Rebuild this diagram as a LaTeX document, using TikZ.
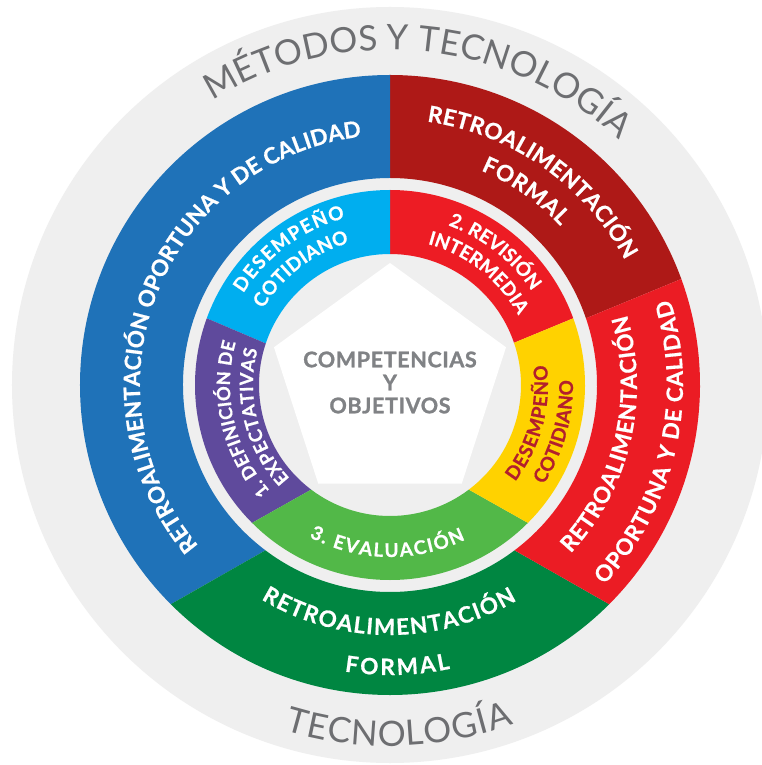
\documentclass[tikz,border=0pt]{standalone}
\usepackage{fontspec}
\setmainfont{Lato}
\usetikzlibrary{decorations.text}
\definecolor{bgray}{HTML}{EFEFEF}
\definecolor{tgray}{HTML}{6D6E71}
\definecolor{cgray}{HTML}{808285}
\definecolor{oblue}{HTML}{1F72B8}
\definecolor{odred}{HTML}{AE1917}
\definecolor{ored}{HTML}{EB1C24}
\definecolor{ogreen}{HTML}{008641}
\definecolor{icyan}{HTML}{00AEEF}
\definecolor{ired}{HTML}{ED1C24}
\definecolor{iyellow}{HTML}{FFD200}
\definecolor{igreen}{HTML}{52B848}
\definecolor{ipurple}{HTML}{5F4A9C}
\definecolor{ytext}{HTML}{B21F2D}
% ring segment: colour, r in, r out, A(in), A(out), B(in), B(out)
\newcommand{\ringseg}[7]{\fill[#1] (#4:#2pt) -- (#5:#3pt) arc[start angle=#5, end angle=#7, radius=#3pt] -- (#6:#2pt) arc[start angle=#6, end angle=#4, radius=#2pt] -- cycle;}
% text on an arc: radius, start angle, end angle, format, text
\newcommand{\arctext}[5]{\path[decorate, decoration={text along path, text align={fit to path}, text={|#4|#5}}] (#2:#1pt) arc[start angle=#2, end angle=#3, radius=#1pt];}
\newcommand{\fmtgray}{\color{tgray}\fontsize{35}{35}\selectfont}
\newcommand{\fmtouter}{\color{white}\bfseries\fontsize{22.5}{22.5}\selectfont\addfontfeatures{FakeBold=0.7}}
\newcommand{\fmtinner}{\color{white}\bfseries\fontsize{19}{19}\selectfont\addfontfeatures{FakeBold=0.7}}
\newcommand{\fmtpurple}{\color{white}\bfseries\fontsize{18.3}{18.3}\selectfont\addfontfeatures{FakeBold=0.7}}
\newcommand{\fmtyel}{\color{ytext}\bfseries\fontsize{19}{19}\selectfont\addfontfeatures{FakeBold=0.7}}
\begin{document}
\begin{tikzpicture}[x=1pt,y=1pt]
\useasboundingbox (-390,-380) rectangle (372,385);
\fill[white] (-390,-380) rectangle (372,385);
\fill[bgray] (0,0) circle[radius=378pt];
% outer ring
\ringseg{odred}{207}{310}{18.8}{20}{90}{90}
\ringseg{oblue}{207}{310}{90}{90}{233}{225}
\ringseg{ogreen}{207}{310}{233}{225}{307}{315}
\ringseg{ored}{207}{310}{307}{315}{378.8}{380}
% inner ring
\ringseg{ired}{131}{195}{18.8}{20}{90}{90}
\ringseg{icyan}{131}{195}{90}{90}{161.5}{160}
\ringseg{ipurple}{131}{195}{161.5}{160}{233}{225}
\ringseg{igreen}{131}{195}{233}{225}{307}{315}
\ringseg{iyellow}{131}{195}{307}{315}{378.8}{380}
% pentagon
\fill[white] (90:122pt) -- (162:122pt) -- (234:122pt) -- (306:122pt) -- (18:122pt) -- cycle;
\node[align=center, text=cgray, font=\bfseries\fontsize{21.5}{23}\selectfont\addfontfeatures{FakeBold=1.2,LetterSpace=3}] (ctr) at (0,2.5) {COMPETENCIAS\\Y\\OBJETIVOS};
% grey band texts
\arctext{335}{122}{47}{\fmtgray}{MÉTODOS Y TECNOLOGÍA}
\arctext{361}{253}{290}{\fmtgray}{TECNOLOGÍA}
% outer ring texts
\arctext{250}{220}{96.5}{\fmtouter}{RETROALIMENTACIÓN OPORTUNA Y DE CALIDAD}
\arctext{266}{82}{28}{\fmtouter}{RETROALIMENTACIÓN}
\arctext{233}{67}{43}{\fmtouter}{FORMAL}
\arctext{247}{-43}{16.5}{\fmtouter}{RETROALIMENTACIÓN}
\arctext{293}{-43}{17}{\fmtouter}{OPORTUNA Y DE CALIDAD}
\arctext{250}{239}{300.5}{\fmtouter}{RETROALIMENTACIÓN}
\arctext{290}{261}{282}{\fmtouter}{FORMAL}
% inner ring texts
\arctext{173}{148}{105}{\fmtinner}{DESEMPEÑO}
\arctext{148}{149}{106}{\fmtinner}{COTIDIANO}
\arctext{170}{70}{33.5}{\fmtinner}{2. REVISIÓN}
\arctext{146}{75}{28.5}{\fmtinner}{INTERMEDIA}
\arctext{158}{-37.7}{7.3}{\fmtyel}{DESEMPEÑO}
\arctext{183}{-33}{1.5}{\fmtyel}{COTIDIANO}
\arctext{160}{221.5}{164.5}{\fmtpurple}{1. DEFINICIÓN DE}
\arctext{137}{223}{165}{\fmtpurple}{EXPECTATIVAS}
\arctext{172}{242}{296}{\fmtinner}{3. EVALUACIÓN}
\end{tikzpicture}
\end{document}
